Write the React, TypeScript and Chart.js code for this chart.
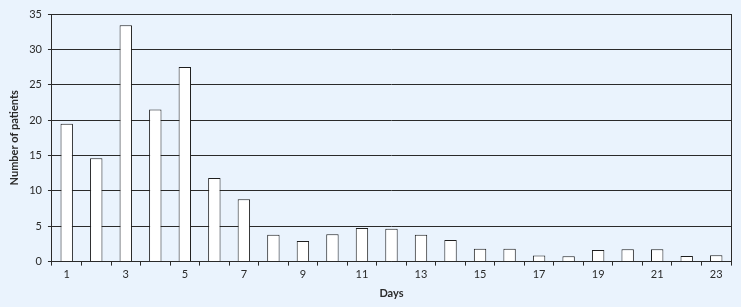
import React, { useEffect, useRef } from "react";
import { Chart, registerables } from "chart.js";

Chart.register(...registerables);

const days: string[] = ["1","2","3","4","5","6","7","8","9","10","11","12","13","14","15","16","17","18","19","20","21","22","23"];
const patients: number[] = [19.5, 14.6, 33.4, 21.5, 27.5, 11.8, 8.8, 3.8, 2.9, 3.85, 4.75, 4.65, 3.8, 3.05, 1.8, 1.8, 0.85, 0.75, 1.65, 1.75, 1.75, 0.8, 0.9];
const yTicks: number[] = [0, 5, 10, 15, 20, 25, 30, 35];

const FONT = "Lato, 'Open Sans', sans-serif";
const INK = "#2a2a2a";

export default function App() {
  const ref = useRef<HTMLCanvasElement | null>(null);
  useEffect(() => {
    document.body.style.margin = "0";
    const ctx = ref.current!;
    const chart = new Chart(ctx, {
      type: "bar",
      data: {
        labels: days,
        datasets: [
          {
            data: patients,
            backgroundColor: "#ffffff",
            borderColor: "#1e1e1e",
            borderWidth: 1,
            categoryPercentage: 1,
            barPercentage: 0.42,
          },
        ],
      },
      options: {
        animation: false,
        responsive: false,
        maintainAspectRatio: false,
        layout: { padding: { left: 8, right: 10, top: 14, bottom: 7 } },
        plugins: { legend: { display: false }, tooltip: { enabled: false } },
        scales: {
          x: {
            offset: true,
            grid: { offset: true, drawOnChartArea: false, drawTicks: true, tickLength: 4, color: INK },
            border: { display: true, color: INK, width: 1 },
            ticks: {
              autoSkip: false,
              maxRotation: 0,
              padding: 2,
              color: INK,
              font: { family: FONT, size: 11 },
              callback: (_v: any, i: number) => (i % 2 === 0 ? days[i] : ""),
            },
            title: { display: true, text: "Days", color: INK, font: { family: FONT, size: 11, weight: "bold" }, padding: { top: 4, bottom: 0 } },
          },
          y: {
            min: 0,
            max: 35,
            afterBuildTicks: (axis: any) => {
              axis.ticks = yTicks.map((v) => ({ value: v }));
            },
            grid: { color: INK, lineWidth: 1, tickLength: 4 },
            border: { display: true, color: INK, width: 1 },
            ticks: { padding: 6, color: INK, font: { family: FONT, size: 11 } },
            title: { display: true, text: "Number of patients", color: INK, font: { family: FONT, size: 11, weight: "bold" }, padding: { top: 0, bottom: 2 } },
          },
          y2: {
            position: "right",
            min: 0,
            max: 35,
            grid: { display: false, drawTicks: false },
            border: { display: true, color: INK, width: 1 },
            ticks: { display: false },
          },
        },
      },
    });
    return () => chart.destroy();
  }, []);
  return (
    <div style={{ position: "fixed", left: 0, top: 0, width: 741, height: 307, background: "#eaf3fd" }}>
      <canvas ref={ref} width={741} height={307} style={{ display: "block" }} />
    </div>
  );
}
